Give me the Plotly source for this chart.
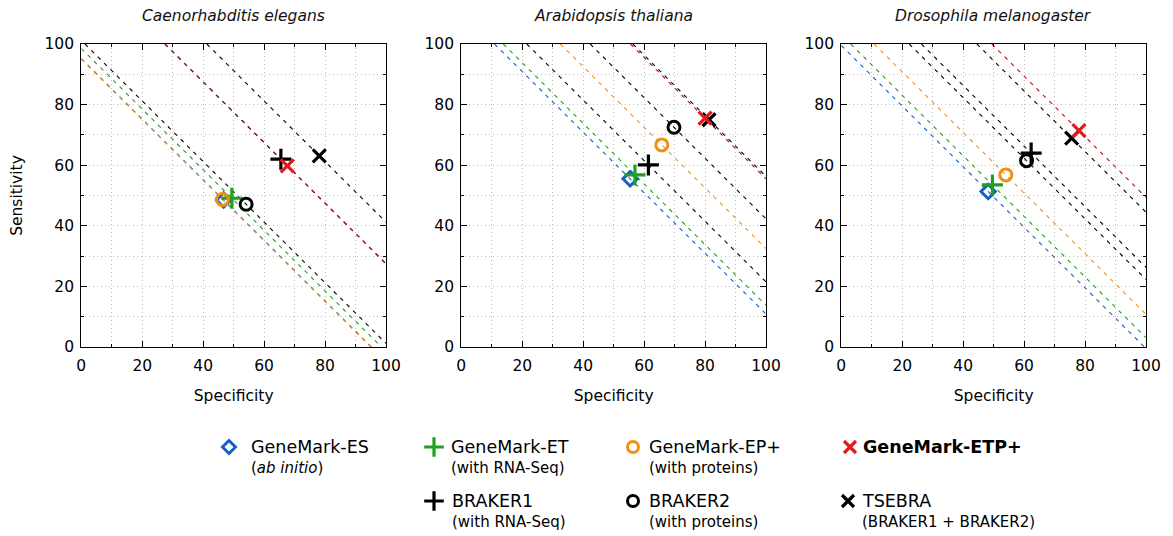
import plotly.graph_objects as go

W, H = 1173, 536

species = ["Caenorhabditis elegans", "Arabidopsis thaliana", "Drosophila melanogaster"]
tools = ["GeneMark-ES", "GeneMark-ET", "GeneMark-EP+", "BRAKER1", "BRAKER2", "TSEBRA", "GeneMark-ETP+"]

# Specificity (x) and Sensitivity (y) per species, in order of tools
spec_celegans = [46.7, 49.4, 46.3, 65.5, 54.1, 78.1, 67.6]
sens_celegans = [48.5, 49.1, 48.7, 62.0, 47.1, 63.1, 59.8]
spec_athaliana = [55.4, 57.0, 65.8, 61.4, 69.8, 81.3, 80.0]
sens_athaliana = [55.5, 56.8, 66.7, 60.1, 72.5, 75.0, 75.5]
spec_dmel = [48.2, 49.6, 54.0, 62.3, 60.8, 75.6, 78.0]
sens_dmel = [51.3, 53.5, 56.8, 64.0, 61.5, 68.9, 71.4]

spec_all = [spec_celegans, spec_athaliana, spec_dmel]
sens_all = [sens_celegans, sens_athaliana, sens_dmel]

marker_colors = ["#1460c0", "#1fa01f", "#f29111", "#000000", "#000000", "#000000", "#e31a1c"]
line_colors = ["#1460c0", "#1fa01f", "#f29111", "#000000", "#000000", "#000000", "#b51414"]
symbols = ["diamond-open", "cross-thin-open", "circle-open", "cross-thin-open", "circle-open", "x-thin-open", "x-thin-open"]
msizes = [11, 15, 12, 15, 12, 13, 13]
mwidths = [3, 3.2, 3, 3.2, 3, 3.2, 3.2]
leg_sizes = [10, 14, 11, 14, 11, 12, 12]

legend_main = ["GeneMark-ES", "GeneMark-ET", "GeneMark-EP+", "<b>GeneMark-ETP+</b>",
               "BRAKER1", "BRAKER2", "TSEBRA"]
legend_sub = ["(<i>ab initio</i>)", "(with RNA-Seq)", "(with proteins)", "",
              "(with RNA-Seq)", "(with proteins)", "(BRAKER1 + BRAKER2)"]
legend_tool_idx = [0, 1, 2, 6, 3, 4, 5]

FONT = "DejaVu Sans"
FS = 15.5

fig = go.Figure()

x_domains = [(81.3, 386.0), (461.3, 766.0), (841.3, 1146.0)]
y_dom = [1 - 347.0 / H, 1 - 44.0 / H]

for p in range(3):
    xa = "x" if p == 0 else f"x{p+1}"
    ya = "y" if p == 0 else f"y{p+1}"
    sx, sy = spec_all[p], sens_all[p]
    # iso lines (Sn + Sp = const) through each point
    for i in range(len(tools)):
        c = sx[i] + sy[i]
        x0, x1 = max(0.0, c - 100.0), min(100.0, c)
        fig.add_trace(go.Scatter(
            x=[x0, x1], y=[c - x0, c - x1], mode="lines", xaxis=xa, yaxis=ya,
            line=dict(color=line_colors[i], width=1.1, dash="4px,5px"),
            showlegend=False, hoverinfo="skip"))
    for i in range(len(tools)):
        fig.add_trace(go.Scatter(
            x=[sx[i]], y=[sy[i]], mode="markers", xaxis=xa, yaxis=ya,
            marker=dict(symbol=symbols[i], size=msizes[i], color=marker_colors[i],
                        line=dict(color=marker_colors[i], width=mwidths[i])),
            name=tools[i], showlegend=False))

GRID = "#bdbdbd"
axis_common = dict(
    range=[0, 100], dtick=20, tick0=0, ticks="inside", ticklen=6, tickwidth=1,
    tickcolor="black", mirror="allticks", showline=True, linecolor="black", linewidth=1.2,
    showgrid=True, gridcolor=GRID, griddash="1px,3px", gridwidth=1,
    zeroline=False, fixedrange=True, automargin=False,
    tickfont=dict(family=FONT, size=FS, color="black"),
    minor=dict(dtick=10, ticks="inside", ticklen=3, tickcolor="black",
               showgrid=True, gridcolor=GRID, griddash="1px,3px", gridwidth=1),
)

layout = dict(
    width=W, height=H, margin=dict(l=0, r=0, t=0, b=0, autoexpand=False),
    paper_bgcolor="white", plot_bgcolor="rgba(0,0,0,0)", showlegend=False,
    font=dict(family=FONT, size=FS, color="black"),
)
for p in range(3):
    xk = "xaxis" if p == 0 else f"xaxis{p+1}"
    yk = "yaxis" if p == 0 else f"yaxis{p+1}"
    xa = "x" if p == 0 else f"x{p+1}"
    ya = "y" if p == 0 else f"y{p+1}"
    layout[xk] = dict(axis_common, domain=[x_domains[p][0] / W, x_domains[p][1] / W],
                      anchor=ya, ticklabelstandoff=4,
                      title=dict(text="Specificity", font=dict(family=FONT, size=FS), standoff=16))
    ycfg = dict(axis_common, domain=y_dom, anchor=xa, ticklabelstandoff=3)
    if p == 0:
        ycfg["title"] = dict(text="Sensitivity", font=dict(family=FONT, size=FS), standoff=18)
    layout[yk] = ycfg

# legend axis (pixel-like coordinates over the whole figure)
layout["xaxis4"] = dict(domain=[0, 1], range=[0, W], visible=False, fixedrange=True, anchor="y4")
layout["yaxis4"] = dict(domain=[0, 1], range=[H, 0], visible=False, fixedrange=True, anchor="x4")
fig.update_layout(**layout)

# subplot titles
annotations = []
for p in range(3):
    cx = (x_domains[p][0] + x_domains[p][1]) / 2 / W
    annotations.append(dict(text=f"<i>{species[p]}</i>", x=cx, y=1 - 16 / H, xref="paper", yref="paper",
                            showarrow=False, font=dict(family=FONT, size=FS, color="#111"),
                            xanchor="center", yanchor="middle"))

# custom legend
leg_mx = [229, 434, 633, 850, 434, 633, 848]
leg_tx = [249, 449, 647, 861, 450, 647, 860]
leg_y = [447, 447, 447, 447, 501, 501, 501]
for k in range(7):
    ti = legend_tool_idx[k]
    fig.add_trace(go.Scatter(
        x=[leg_mx[k]], y=[leg_y[k]], xaxis="x4", yaxis="y4", mode="markers",
        marker=dict(symbol=symbols[ti], size=leg_sizes[ti], color=marker_colors[ti],
                    line=dict(color=marker_colors[ti], width=mwidths[ti])),
        showlegend=False, hoverinfo="skip"))
    annotations.append(dict(text=legend_main[k], x=leg_tx[k], y=leg_y[k], xref="x4", yref="y4",
                            showarrow=False, xanchor="left", yanchor="middle",
                            font=dict(family=FONT, size=17.5, color="black")))
    if legend_sub[k]:
        annotations.append(dict(text=legend_sub[k], x=leg_tx[k], y=leg_y[k] + 21, xref="x4", yref="y4",
                                showarrow=False, xanchor="left", yanchor="middle",
                                font=dict(family=FONT, size=15, color="black")))
fig.update_layout(annotations=annotations)

fig.write_html("out.html")
